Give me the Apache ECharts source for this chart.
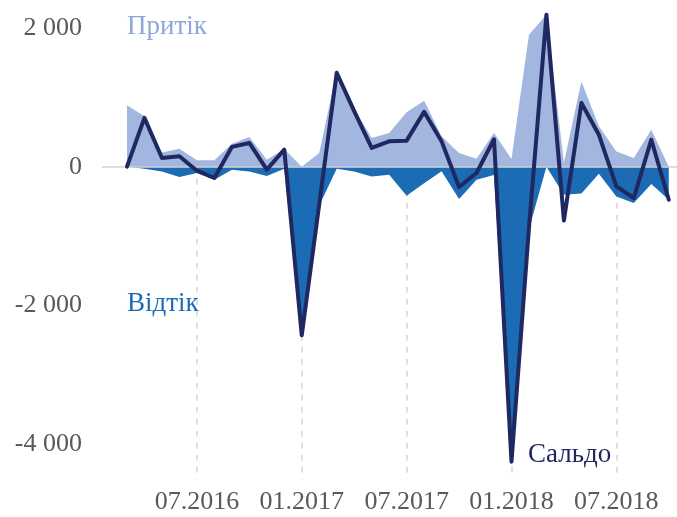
<!DOCTYPE html>
<html>
<head>
<meta charset="utf-8">
<script src="https://cdn.jsdelivr.net/npm/echarts@6/dist/echarts.min.js"></script>
<style>
html,body{margin:0;padding:0;background:#fff;}
#chart{width:677px;height:517px;}
</style>
</head>
<body>
<div id="chart"></div>
<script>
const months = ['03.2016','04.2016','05.2016','06.2016','07.2016','08.2016','09.2016','10.2016','11.2016','12.2016',
  '01.2017','02.2017','03.2017','04.2017','05.2017','06.2017','07.2017','08.2017','09.2017','10.2017','11.2017','12.2017',
  '01.2018','02.2018','03.2018','04.2018','05.2018','06.2018','07.2018','08.2018','09.2018','10.2018'];
const xTickLabels = ['07.2016','01.2017','07.2017','01.2018','07.2018'];
const yTickValues = [2000, 0, -2000, -4000];
const yTickLabels = ['2 000', '0', '-2 000', '-4 000'];
const inflow = [885,725,206,260,91,91,330,428,101,255,0,198,1380,830,414,486,784,950,437,198,115,486,111,1902,2190,53,1229,581,220,125,533,0];
const outflow = [0,-30,-70,-150,-90,-190,-45,-70,-135,-30,-2450,-560,-30,-70,-140,-115,-418,-240,-67,-466,-187,-120,-4280,-900,0,-403,-385,-100,-428,-523,-250,-476];
const saldo = [0,703,125,150,-58,-163,285,342,-43,245,-2430,-540,1352,800,270,365,375,790,365,-293,-91,395,-4250,-880,2190,-775,918,461,-284,-451,389,-476];
const seriesNames = ['Притік', 'Відтік', 'Сальдо'];

const FONT = 'Liberation Serif';
const toPairs = arr => arr.map((v, i) => [i, v]);
const tickIdx = xTickLabels.map(l => months.indexOf(l));
const Y_MIN = -4500;

const chart = echarts.init(document.getElementById('chart'), null, {renderer: 'canvas'});
chart.setOption({
  animation: false,
  backgroundColor: '#ffffff',
  grid: {left: 102, right: 0, top: 14, bottom: 38, containLabel: false, outerBoundsMode: 'none'},
  xAxis: {
    type: 'value', min: -1.43, max: 31.47,
    axisLine: {show: false, onZero: false}, axisTick: {show: false}, splitLine: {show: false},
    axisLabel: {
      customValues: tickIdx,
      formatter: v => months[Math.round(v)] || '',
      fontFamily: FONT, fontSize: 26, color: '#595959', margin: 10
    }
  },
  yAxis: {
    type: 'value', min: Y_MIN, max: 2200,
    axisLine: {show: false}, axisTick: {show: false}, splitLine: {show: false},
    axisLabel: {
      customValues: yTickValues,
      formatter: v => { const i = yTickValues.indexOf(v); return i >= 0 ? yTickLabels[i] : ''; },
      fontFamily: FONT, fontSize: 26, color: '#595959', margin: 20
    }
  },
  graphic: [
    {type: 'text', x: 127, y: 27, z: 10, style: {text: seriesNames[0], fontFamily: FONT, fontSize: 27, fill: '#8ea7da', verticalAlign: 'middle'}},
    {type: 'text', x: 127, y: 304, z: 10, style: {text: seriesNames[1], fontFamily: FONT, fontSize: 27, fill: '#1c6db5', verticalAlign: 'middle'}},
    {type: 'text', x: 528, y: 455, z: 10, style: {text: seriesNames[2], fontFamily: FONT, fontSize: 27, fill: '#1f2860', verticalAlign: 'middle'}}
  ],
  series: [
    {
      type: 'line', data: [], z: 1, silent: true,
      markLine: {
        z: 1, silent: true, symbol: 'none', label: {show: false},
        lineStyle: {color: '#d6d6d6', width: 1.5, type: [6, 6]},
        data: tickIdx.map(i => [{coord: [i, 0]}, {coord: [i, Y_MIN]}])
      }
    },
    {
      name: seriesNames[0], type: 'line', data: toPairs(inflow), z: 2,
      symbol: 'none', lineStyle: {width: 0}, areaStyle: {color: '#a3b6df', opacity: 1}
    },
    {
      name: seriesNames[1], type: 'line', data: toPairs(outflow), z: 2,
      symbol: 'none', lineStyle: {width: 0}, areaStyle: {color: '#1b6cb4', opacity: 1}
    },
    {
      type: 'line', data: [], z: 3, silent: true,
      markLine: {
        z: 3, silent: true, symbol: 'none', label: {show: false},
        lineStyle: {color: '#d2d2d2', width: 1.5, type: 'solid'},
        data: [{yAxis: 0}]
      }
    },
    {
      name: seriesNames[2], type: 'line', data: toPairs(saldo), z: 4,
      symbol: 'none', lineStyle: {width: 4, color: '#1f2860', join: 'round', cap: 'round'}
    }
  ]
});
</script>
</body>
</html>
